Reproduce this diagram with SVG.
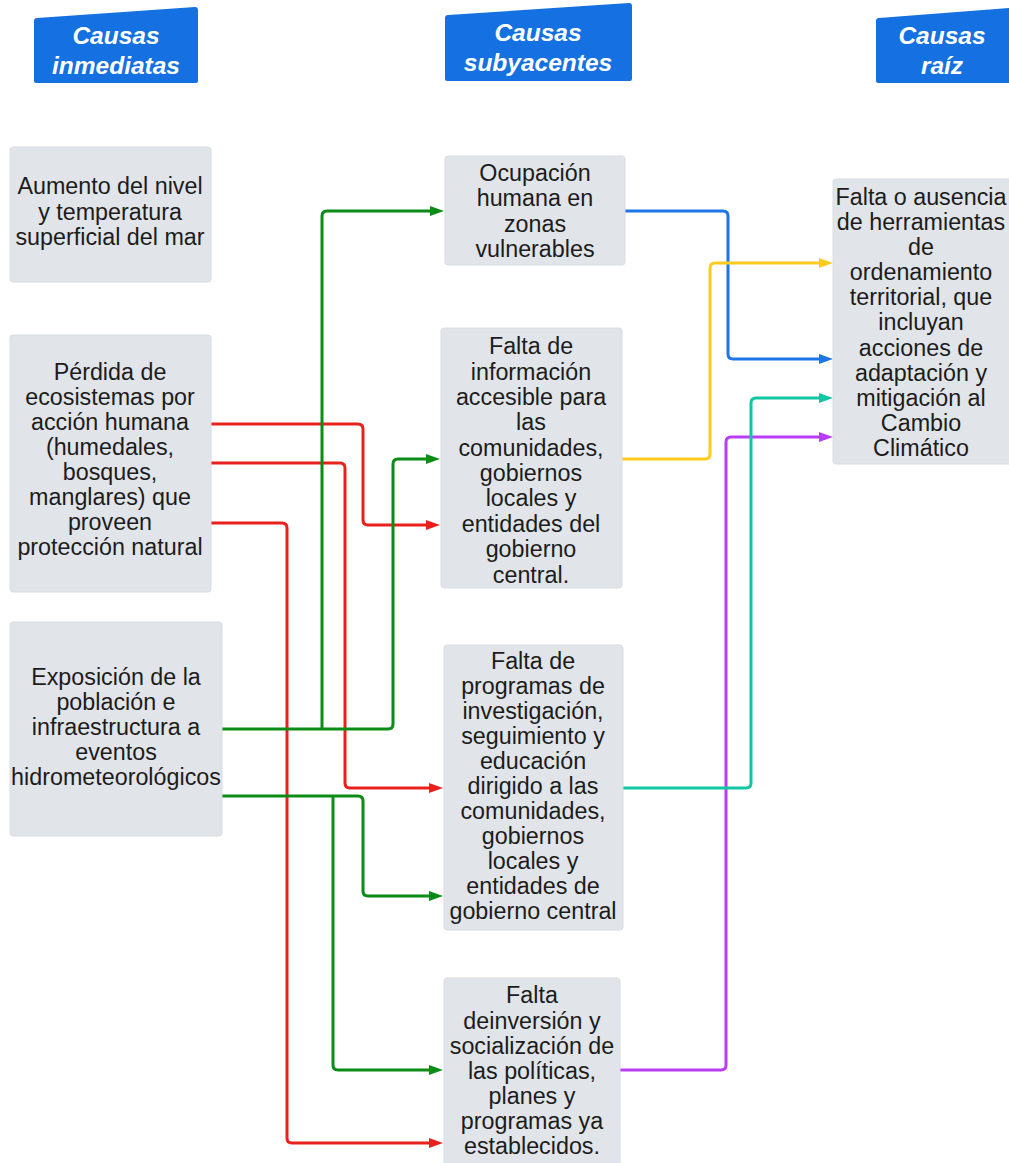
<svg xmlns="http://www.w3.org/2000/svg" width="1009" height="1163" viewBox="0 0 1009 1163">
<style>
.hdr{fill:#1570e1}
.ht{font-family:"Liberation Sans",Arial,sans-serif;font-size:24.5px;font-weight:bold;font-style:italic;fill:#ffffff;text-anchor:middle}
.box{fill:#e1e4e8;stroke:#d9dce0;stroke-width:1}
.t{font-family:"Liberation Sans",Arial,sans-serif;font-size:23.3px;fill:#1c1c1c;text-anchor:middle}
.c{fill:none;stroke-width:3;stroke-linejoin:round}
</style>
<defs>
<marker id="ag" viewBox="0 0 14 10" refX="2" refY="5" markerWidth="14" markerHeight="10" markerUnits="userSpaceOnUse" orient="auto"><path d="M0,0 L14,5 L0,10 z" fill="#0b8c16"/></marker>
<marker id="ar" viewBox="0 0 14 10" refX="2" refY="5" markerWidth="14" markerHeight="10" markerUnits="userSpaceOnUse" orient="auto"><path d="M0,0 L14,5 L0,10 z" fill="#e8211d"/></marker>
<marker id="ab" viewBox="0 0 14 10" refX="2" refY="5" markerWidth="14" markerHeight="10" markerUnits="userSpaceOnUse" orient="auto"><path d="M0,0 L14,5 L0,10 z" fill="#1f74e8"/></marker>
<marker id="ay" viewBox="0 0 14 10" refX="2" refY="5" markerWidth="14" markerHeight="10" markerUnits="userSpaceOnUse" orient="auto"><path d="M0,0 L14,5 L0,10 z" fill="#ffcb1f"/></marker>
<marker id="at" viewBox="0 0 14 10" refX="2" refY="5" markerWidth="14" markerHeight="10" markerUnits="userSpaceOnUse" orient="auto"><path d="M0,0 L14,5 L0,10 z" fill="#12c6a4"/></marker>
<marker id="ap" viewBox="0 0 14 10" refX="2" refY="5" markerWidth="14" markerHeight="10" markerUnits="userSpaceOnUse" orient="auto"><path d="M0,0 L14,5 L0,10 z" fill="#bb3cf5"/></marker>
</defs>
<rect width="1009" height="1163" fill="#ffffff"/>

<g id="hdr-inmediatas">
<path class="hdr" d="M37,18 L195,7 Q198,7 198,10 L198,81 Q198,83 196,83 L36,83 Q34,83 34,81 L34,21 Q34,18 37,18 z"/>
<text class="ht" x="116" y="44">Causas</text>
<text class="ht" x="116" y="74">inmediatas</text>
</g>
<g id="hdr-subyacentes">
<path class="hdr" d="M448,15 L629,3 Q632,3 632,6 L632,79 Q632,81 630,81 L447,81 Q445,81 445,79 L445,18 Q445,15 448,15 z"/>
<text class="ht" x="538" y="41">Causas</text>
<text class="ht" x="538" y="71">subyacentes</text>
</g>
<g id="hdr-raiz">
<path class="hdr" d="M879,18 L1009,8 L1009,83 L878,83 Q876,83 876,81 L876,21 Q876,18 879,18 z"/>
<text class="ht" x="942" y="44">Causas</text>
<text class="ht" x="942" y="74">raíz</text>
</g>

<g id="connectors">
<path class="c" stroke="#e8211d" marker-end="url(#ar)" d="M211,424 H358 Q363,424 363,429 V520 Q363,525 368,525 H428"/>
<path class="c" stroke="#e8211d" marker-end="url(#ar)" d="M211,463 H340 Q345,463 345,468 V783 Q345,788 350,788 H431"/>
<path class="c" stroke="#e8211d" marker-end="url(#ar)" d="M211,523 H282 Q287,523 287,528 V1138 Q287,1143 292,1143 H431"/>
<path class="c" stroke="#0b8c16" marker-end="url(#ag)" d="M222,729 H388 Q393,729 393,724 V464 Q393,459 398,459 H428"/>
<path class="c" stroke="#0b8c16" marker-end="url(#ag)" d="M322,729 V216 Q322,211 327,211 H432"/>
<path class="c" stroke="#0b8c16" marker-end="url(#ag)" d="M222,796 H358 Q363,796 363,801 V891 Q363,896 368,896 H431"/>
<path class="c" stroke="#0b8c16" marker-end="url(#ag)" d="M333,796 V1065 Q333,1070 338,1070 H431"/>
<path class="c" stroke="#1f74e8" marker-end="url(#ab)" d="M625,211 H723 Q728,211 728,216 V354 Q728,359 733,359 H821"/>
<path class="c" stroke="#ffcb1f" marker-end="url(#ay)" d="M622,459 H705 Q710,459 710,454 V268 Q710,263 715,263 H821"/>
<path class="c" stroke="#bb3cf5" marker-end="url(#ap)" d="M620,1070 H721 Q726,1070 726,1065 V442 Q726,437 731,437 H821"/>
<path class="c" stroke="#12c6a4" marker-end="url(#at)" d="M623,788 H746 Q751,788 751,783 V403 Q751,398 756,398 H821"/>
</g>

<g id="node-aumento">
<rect class="box" x="10" y="147" width="201" height="135" rx="3"/>
<text class="t" x="110" y="194">Aumento del nivel</text>
<text class="t" x="110" y="220">y temperatura</text>
<text class="t" x="110" y="245">superficial del mar</text>
</g>
<g id="node-perdida">
<rect class="box" x="10" y="335" width="201" height="257" rx="3"/>
<text class="t" x="110" y="380">Pérdida de</text>
<text class="t" x="110" y="405">ecosistemas por</text>
<text class="t" x="110" y="430">acción humana</text>
<text class="t" x="110" y="455">(humedales,</text>
<text class="t" x="110" y="480">bosques,</text>
<text class="t" x="110" y="505">manglares) que</text>
<text class="t" x="110" y="530">proveen</text>
<text class="t" x="110" y="555">protección natural</text>
</g>
<g id="node-exposicion">
<rect class="box" x="10" y="622" width="212" height="214" rx="3"/>
<text class="t" x="116" y="685">Exposición de la</text>
<text class="t" x="116" y="710">población e</text>
<text class="t" x="116" y="735">infraestructura a</text>
<text class="t" x="116" y="760">eventos</text>
<text class="t" x="116" y="785">hidrometeorológicos</text>
</g>
<g id="node-ocupacion">
<rect class="box" x="445" y="156" width="180" height="109" rx="3"/>
<text class="t" x="535" y="181">Ocupación</text>
<text class="t" x="535" y="206">humana en</text>
<text class="t" x="535" y="232">zonas</text>
<text class="t" x="535" y="257">vulnerables</text>
</g>
<g id="node-informacion">
<rect class="box" x="441" y="328" width="181" height="260" rx="3"/>
<text class="t" x="531" y="354">Falta de</text>
<text class="t" x="531" y="380">información</text>
<text class="t" x="531" y="405">accesible para</text>
<text class="t" x="531" y="430">las</text>
<text class="t" x="531" y="456">comunidades,</text>
<text class="t" x="531" y="481">gobiernos</text>
<text class="t" x="531" y="506">locales y</text>
<text class="t" x="531" y="532">entidades del</text>
<text class="t" x="531" y="557">gobierno</text>
<text class="t" x="531" y="583">central.</text>
</g>
<g id="node-programas">
<rect class="box" x="444" y="645" width="179" height="285" rx="3"/>
<text class="t" x="533" y="669">Falta de</text>
<text class="t" x="533" y="694">programas de</text>
<text class="t" x="533" y="719">investigación,</text>
<text class="t" x="533" y="744">seguimiento y</text>
<text class="t" x="533" y="769">educación</text>
<text class="t" x="533" y="794">dirigido a las</text>
<text class="t" x="533" y="819">comunidades,</text>
<text class="t" x="533" y="844">gobiernos</text>
<text class="t" x="533" y="869">locales y</text>
<text class="t" x="533" y="894">entidades de</text>
<text class="t" x="533" y="919">gobierno central</text>
</g>
<g id="node-inversion">
<rect class="box" x="444" y="978" width="176" height="190" rx="3"/>
<text class="t" x="532" y="1003">Falta</text>
<text class="t" x="532" y="1029">deinversión y</text>
<text class="t" x="532" y="1054">socialización de</text>
<text class="t" x="532" y="1079">las políticas,</text>
<text class="t" x="532" y="1104">planes y</text>
<text class="t" x="532" y="1129">programas ya</text>
<text class="t" x="532" y="1154">establecidos.</text>
</g>
<g id="node-raiz">
<rect class="box" x="833" y="179" width="185" height="285" rx="3"/>
<text class="t" x="921" y="205">Falta o ausencia</text>
<text class="t" x="921" y="230">de herramientas</text>
<text class="t" x="921" y="255">de</text>
<text class="t" x="921" y="280">ordenamiento</text>
<text class="t" x="921" y="305">territorial, que</text>
<text class="t" x="921" y="330">incluyan</text>
<text class="t" x="921" y="356">acciones de</text>
<text class="t" x="921" y="381">adaptación y</text>
<text class="t" x="921" y="406">mitigación al</text>
<text class="t" x="921" y="431">Cambio</text>
<text class="t" x="921" y="456">Climático</text>
</g>
</svg>
